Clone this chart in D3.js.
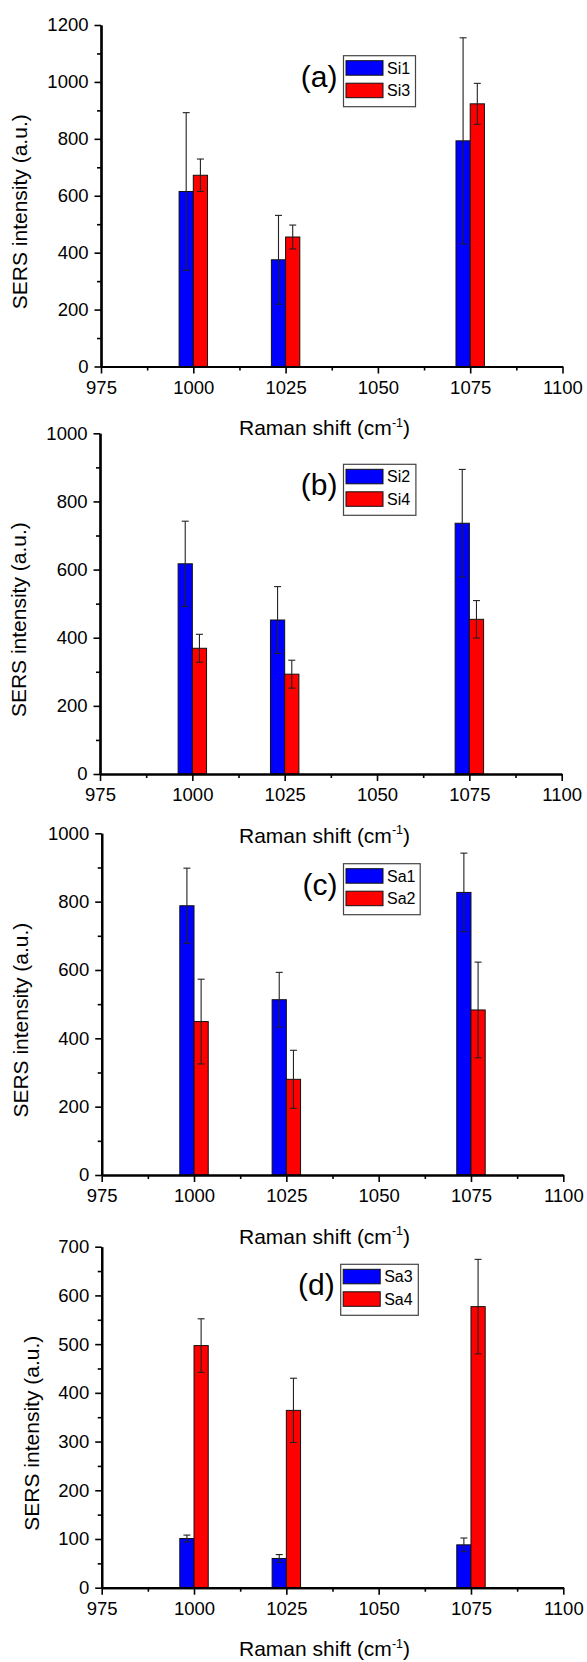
<!DOCTYPE html>
<html><head><meta charset="utf-8">
<script src="https://cdn.jsdelivr.net/npm/d3@7"></script>
<style>
body{margin:0;background:#fff}
svg{display:block}
text{font-family:"Liberation Sans",Arial,Helvetica,sans-serif;fill:#000}
</style>
</head><body>
<svg id="chart" width="587" height="1662"></svg>
<script>
// ---------- data ----------
const shifts = [1000, 1025, 1075];
const xTickValues = [975, 1000, 1025, 1050, 1075, 1100];
const yTicksA = [0, 200, 400, 600, 800, 1000, 1200];
const yTicksB = [0, 200, 400, 600, 800, 1000];
const yTicksC = [0, 200, 400, 600, 800, 1000];
const yTicksD = [0, 100, 200, 300, 400, 500, 600, 700];

const si1 = [615, 375, 793],  si1Err = [277, 156, 362];
const si3 = [672, 455, 923],  si3Err = [57, 42, 72];
const si2 = [617, 452, 736],  si2Err = [125, 98, 158];
const si4 = [369, 293, 454],  si4Err = [41, 41, 55];
const sa1 = [788, 513, 827],  sa1Err = [110, 80, 115];
const sa2 = [449, 280, 483],  sa2Err = [124, 85, 140];
const sa3 = [101, 60, 88],    sa3Err = [7, 8, 14];
const sa4 = [497, 364, 577],  sa4Err = [55, 66, 97];

const panelTags = ["(a)", "(b)", "(c)", "(d)"];
const seriesNames = [["Si1", "Si3"], ["Si2", "Si4"], ["Sa1", "Sa2"], ["Sa3", "Sa4"]];
const xTitle = "Raman shift (cm";
const xTitleSup = "-1";
const yTitle = "SERS intensity (a.u.)";

// ---------- layout ----------
const BLUE = "#0000ff", RED = "#ff0000";
const barW = 3.85; // bar width in x units

const panels = [
  {tag: panelTags[0], names: seriesNames[0], b: si1, bE: si1Err, r: si3, rE: si3Err, yTicks: yTicksA, minor: 100,
   x0: 101, x1: 562.5, yT: 25, yB: 366.5, legW: 72, legDY: 30.7, ylabX: 20},
  {tag: panelTags[1], names: seriesNames[1], b: si2, bE: si2Err, r: si4, rE: si4Err, yTicks: yTicksB, minor: 100,
   x0: 100, x1: 561.7, yT: 433.3, yB: 774, legW: 72.4, legDY: 31, ylabX: 19},
  {tag: panelTags[2], names: seriesNames[2], b: sa1, bE: sa1Err, r: sa2, rE: sa2Err, yTicks: yTicksC, minor: 100,
   x0: 101.7, x1: 563.3, yT: 833.3, yB: 1175, legW: 76.7, legDY: 30.4, ylabX: 21},
  {tag: panelTags[3], names: seriesNames[3], b: sa3, bE: sa3Err, r: sa4, rE: sa4Err, yTicks: yTicksD, minor: 50,
   x0: 101.7, x1: 563.3, yT: 1246.7, yB: 1587.7, legW: 77.6, legDY: 17.6, ylabX: 32}
];

const svg = d3.select("#chart");

panels.forEach(p => {
  const g = svg.append("g");
  const x = d3.scaleLinear().domain([975, 1100]).range([p.x0, p.x1]);
  const yMax = d3.max(p.yTicks);
  const y = d3.scaleLinear().domain([0, yMax]).range([p.yB, p.yT]);

  // bars
  const series = [
    {vals: p.b, errs: p.bE, color: BLUE, off: -barW},
    {vals: p.r, errs: p.rE, color: RED, off: 0}
  ];
  series.forEach(s => {
    g.selectAll(null).data(shifts).enter().append("rect")
      .attr("x", (d) => x(d + s.off))
      .attr("width", x(975 + barW) - x(975))
      .attr("y", (d, i) => y(s.vals[i]))
      .attr("height", (d, i) => y(0) - y(s.vals[i]))
      .attr("fill", s.color)
      .attr("stroke", "#111")
      .attr("stroke-width", 1);
  });
  // error bars
  series.forEach(s => {
    shifts.forEach((d, i) => {
      const cx = x(d + s.off + barW / 2);
      const top = y(s.vals[i] + s.errs[i]), bot = y(s.vals[i] - s.errs[i]);
      g.append("line").attr("x1", cx).attr("x2", cx).attr("y1", top).attr("y2", bot)
        .attr("stroke", "#222").attr("stroke-width", 1.1);
      [top, bot].forEach(yy => g.append("line").attr("x1", cx - 3.5).attr("x2", cx + 3.5)
        .attr("y1", yy).attr("y2", yy).attr("stroke", "#222").attr("stroke-width", 1.1));
    });
  });

  // minor ticks
  const xMinor = d3.range(987.5, 1100, 25);
  const yMinor = d3.range(p.minor, yMax, p.minor * 2);
  const xMinorAxis = d3.axisBottom(x).tickValues(xMinor).tickSize(4).tickSizeOuter(0).tickFormat("");
  const yMinorAxis = d3.axisLeft(y).tickValues(yMinor).tickSize(4).tickSizeOuter(0).tickFormat("");
  g.append("g").attr("transform", `translate(0,${p.yB})`).call(xMinorAxis);
  g.append("g").attr("transform", `translate(${p.x0},0)`).call(yMinorAxis);

  // major axes
  const xAxis = d3.axisBottom(x).tickValues(xTickValues).tickSize(7).tickSizeOuter(0).tickPadding(7).tickFormat(d3.format("d"));
  const yAxis = d3.axisLeft(y).tickValues(p.yTicks).tickSize(6.5).tickSizeOuter(0).tickPadding(6).tickFormat(d3.format("d"));
  const gx = g.append("g").attr("transform", `translate(0,${p.yB})`).call(xAxis);
  const gy = g.append("g").attr("transform", `translate(${p.x0},0)`).call(yAxis);
  [gx, gy].forEach(a => {
    a.select(".domain").attr("stroke", "#000").attr("stroke-width", 2.2);
    a.selectAll(".tick line").attr("stroke", "#000").attr("stroke-width", 1.6);
    a.selectAll(".tick text").attr("font-size", 18.5).attr("font-family", '"Liberation Sans",Arial,sans-serif').attr("fill", "#000");
  });
  g.selectAll("g .tick line").attr("stroke", "#000").attr("stroke-width", 1.6);
  g.selectAll(".domain").attr("stroke", "#000").attr("stroke-width", 2.2);

  // axis titles
  const t = g.append("text").attr("x", 239).attr("y", p.yB + 68.5).attr("font-size", 21);
  t.append("tspan").text(xTitle);
  t.append("tspan").attr("font-size", 12.5).attr("dy", -8.5).text(xTitleSup);
  t.append("tspan").attr("dy", 8.5).text(")");

  const yc = (p.yT + p.yB) / 2 + 16;
  g.append("text").attr("transform", `translate(${p.ylabX + 7},${yc}) rotate(-90)`)
    .attr("text-anchor", "middle").attr("font-size", 21).text(yTitle);

  // legend
  const lx = 343.5 + (p.tag === "(d)" ? -2.8 : 0), ly = p.yT + p.legDY;
  const lg = g.append("g").attr("transform", `translate(${lx},${ly})`);
  lg.append("rect").attr("width", p.legW).attr("height", 51).attr("fill", "#fff")
    .attr("stroke", "#444").attr("stroke-width", 1.2);
  [BLUE, RED].forEach((c, i) => {
    lg.append("rect").attr("x", 2.5).attr("y", 5 + i * 22.5).attr("width", 37).attr("height", 14.5)
      .attr("fill", c).attr("stroke", "#111").attr("stroke-width", 1);
    lg.append("text").attr("x", 43.5).attr("y", 5 + i * 22.5 + 13.2).attr("font-size", 16).text(p.names[i]);
  });
  g.append("text").attr("x", lx - 6).attr("y", ly + 31).attr("text-anchor", "end")
    .attr("font-size", 30).text(p.tag);
});
</script>
</body></html>
